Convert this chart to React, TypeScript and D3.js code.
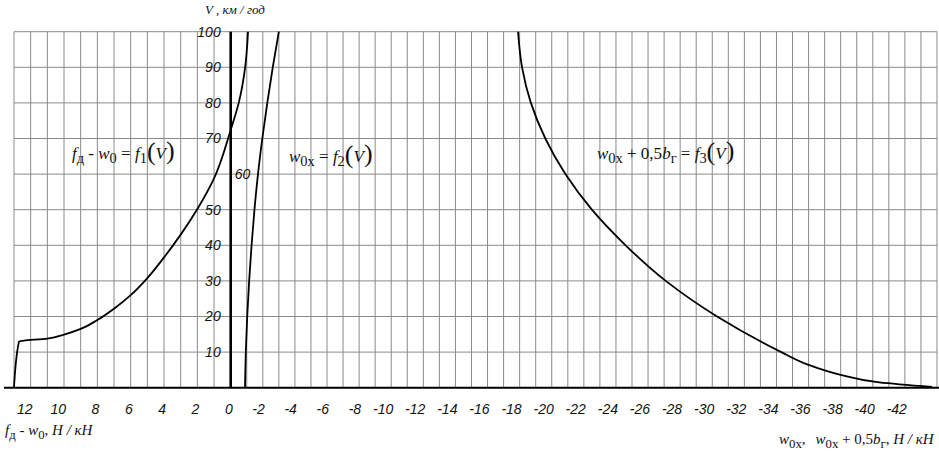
import * as d3 from 'd3';

const xTicks = [12, 10, 8, 6, 4, 2, 0, -2, -4, -6, -8, -10, -12, -14, -16, -18, -20, -22, -24, -26, -28, -30, -32, -34, -36, -38, -40, -42];
const yTicks = [10, 20, 30, 40, 50, 60, 70, 80, 90, 100];
const gridX = d3.range(13, -45, -1);

// f1(V): fд - w0
const f1X = [13, 12.7, 11, 10, 9, 8, 7, 6, 5, 4, 3, 2, 1, 0, -0.5, -0.9, -1.08];
const f1V = [0, 13, 13.8, 14.9, 16.5, 19, 22.2, 26, 30.8, 36.6, 43, 50.2, 58.8, 72.4, 80, 90, 100];

// f2(V): w0x
const f2X = [-0.89, -0.94, -1.03, -1.15, -1.3, -1.48, -1.7, -1.97, -2.28, -2.62, -3.0];
const f2V = [0, 10, 20, 30, 40, 50, 60, 70, 80, 90, 100];

// f3(V): w0x + 0,5bг
const f3X = [-43.7, -40.4, -38.0, -36.0, -34.3, -30.3, -27.1, -24.6, -22.5, -20.85, -19.6, -18.7, -18.15, -17.9];
const f3V = [0.2, 1.5, 3.6, 6.4, 10, 20, 30, 40, 50, 60, 70, 80, 90, 100];

const W = 939;
const H = 452;

const x = d3.scaleLinear().domain([13, 0, -44]).range([14, 230.7, 937]);
const y = d3.scaleLinear().domain([0, 100]).range([387.7, 31.7]);

const serif = '"Liberation Serif", "Times New Roman", serif';
const sans = '"Liberation Sans", Arial, sans-serif';

function curvePath(xs: number[], vs: number[]) {
  const pts = xs.map((d, i) => [d, vs[i]] as [number, number]);
  return d3.line<[number, number]>()
    .x(d => x(d[0]))
    .y(d => y(d[1]))
    .curve(d3.curveMonotoneY)(pts) || '';
}

function Sub({ children }: { children: string }) {
  return <tspan fontStyle="normal" fontSize="0.85em" dy="4">{children}</tspan>;
}

export default function App() {
  return (
    <svg width={W} height={H} style={{ position: 'absolute', left: 0, top: 0, background: '#fff' }}>
      <rect width={W} height={H} fill="#fff" />
      {/* grid */}
      <g stroke="#8a8a8a" strokeWidth={1}>
        {gridX.map(g => (
          <line key={'v' + g} x1={x(g)} x2={x(g)} y1={y(100)} y2={y(0)} />
        ))}
        {yTicks.map(v => (
          <line key={'h' + v} x1={x(13)} x2={x(-44)} y1={y(v)} y2={y(v)} />
        ))}
      </g>

      {/* axes */}
      <line x1={4} x2={W} y1={y(0)} y2={y(0)} stroke="#000" strokeWidth={2} />
      <line x1={x(0)} x2={x(0)} y1={y(100)} y2={y(0)} stroke="#000" strokeWidth={2.6} />

      {/* curves */}
      <g fill="none" stroke="#000" strokeWidth={1.8}>
        <path d={curvePath(f1X, f1V)} />
        <path d={curvePath(f2X, f2V)} />
        <path d={curvePath(f3X, f3V)} />
      </g>

      {/* y tick labels */}
      <g fontFamily={sans} fontStyle="italic" fontSize={14} fill="#111">
        {yTicks.map(v => v === 60 ? (
          <text key={v} x={x(0) + 4} y={y(v)} dy="0.35em" textAnchor="start">{v}</text>
        ) : (
          <text key={v} x={x(0) - 10} y={y(v)} dy="0.35em" textAnchor="end">{v}</text>
        ))}
      </g>

      {/* x tick labels */}
      <g fontFamily={sans} fontStyle="italic" fontSize={14} fill="#111">
        {xTicks.map(t => (
          <text key={t} x={x(t) + 2} y={409} dy="0.35em" textAnchor="end">{t}</text>
        ))}
      </g>

      {/* axis titles */}
      <text x={205} y={14} fontFamily={serif} fontStyle="italic" fontSize={13} fill="#111">V , км / год</text>
      <text x={5} y={435} fontFamily={serif} fontStyle="italic" fontSize={15} fill="#111">
        f<Sub>д</Sub><tspan dy="-4"> - w</tspan><Sub>0</Sub><tspan dy="-4" fontStyle="normal">, </tspan>Н / кН
      </text>
      <text x={779} y={444} fontFamily={serif} fontStyle="italic" fontSize={15} fill="#111">
        w<Sub>0х</Sub><tspan dy="-4" fontStyle="normal">,</tspan><tspan dx="10">w</tspan><Sub>0х</Sub><tspan dy="-4" fontStyle="normal"> + 0,5</tspan>b<Sub>г</Sub><tspan dy="-4" fontStyle="normal">, </tspan>Н / кН
      </text>

      {/* curve labels */}
      <text x={72} y={159} fontFamily={serif} fontStyle="italic" fontSize={17} fill="#111">
        f<Sub>д</Sub><tspan dy="-4" fontStyle="normal"> - </tspan>w<Sub>0</Sub><tspan dy="-4" fontStyle="normal"> = </tspan>f<Sub>1</Sub>
        <tspan dy="-3" fontSize={26} fontStyle="normal">(</tspan><tspan dy="-1">V</tspan><tspan fontSize={26} fontStyle="normal">)</tspan>
      </text>
      <text x={289} y={162} fontFamily={serif} fontStyle="italic" fontSize={17} fill="#111">
        w<Sub>0х</Sub><tspan dy="-4" fontStyle="normal"> = </tspan>f<Sub>2</Sub>
        <tspan dy="-3" fontSize={26} fontStyle="normal">(</tspan><tspan dy="-1">V</tspan><tspan fontSize={26} fontStyle="normal">)</tspan>
      </text>
      <text x={597} y={159} fontFamily={serif} fontStyle="italic" fontSize={17} fill="#111">
        w<Sub>0х</Sub><tspan dy="-4" fontStyle="normal"> + 0,5</tspan>b<Sub>г</Sub><tspan dy="-4" fontStyle="normal"> = </tspan>f<Sub>3</Sub>
        <tspan dy="-3" fontSize={26} fontStyle="normal">(</tspan><tspan dy="-1">V</tspan><tspan fontSize={26} fontStyle="normal">)</tspan>
      </text>
    </svg>
  );
}
